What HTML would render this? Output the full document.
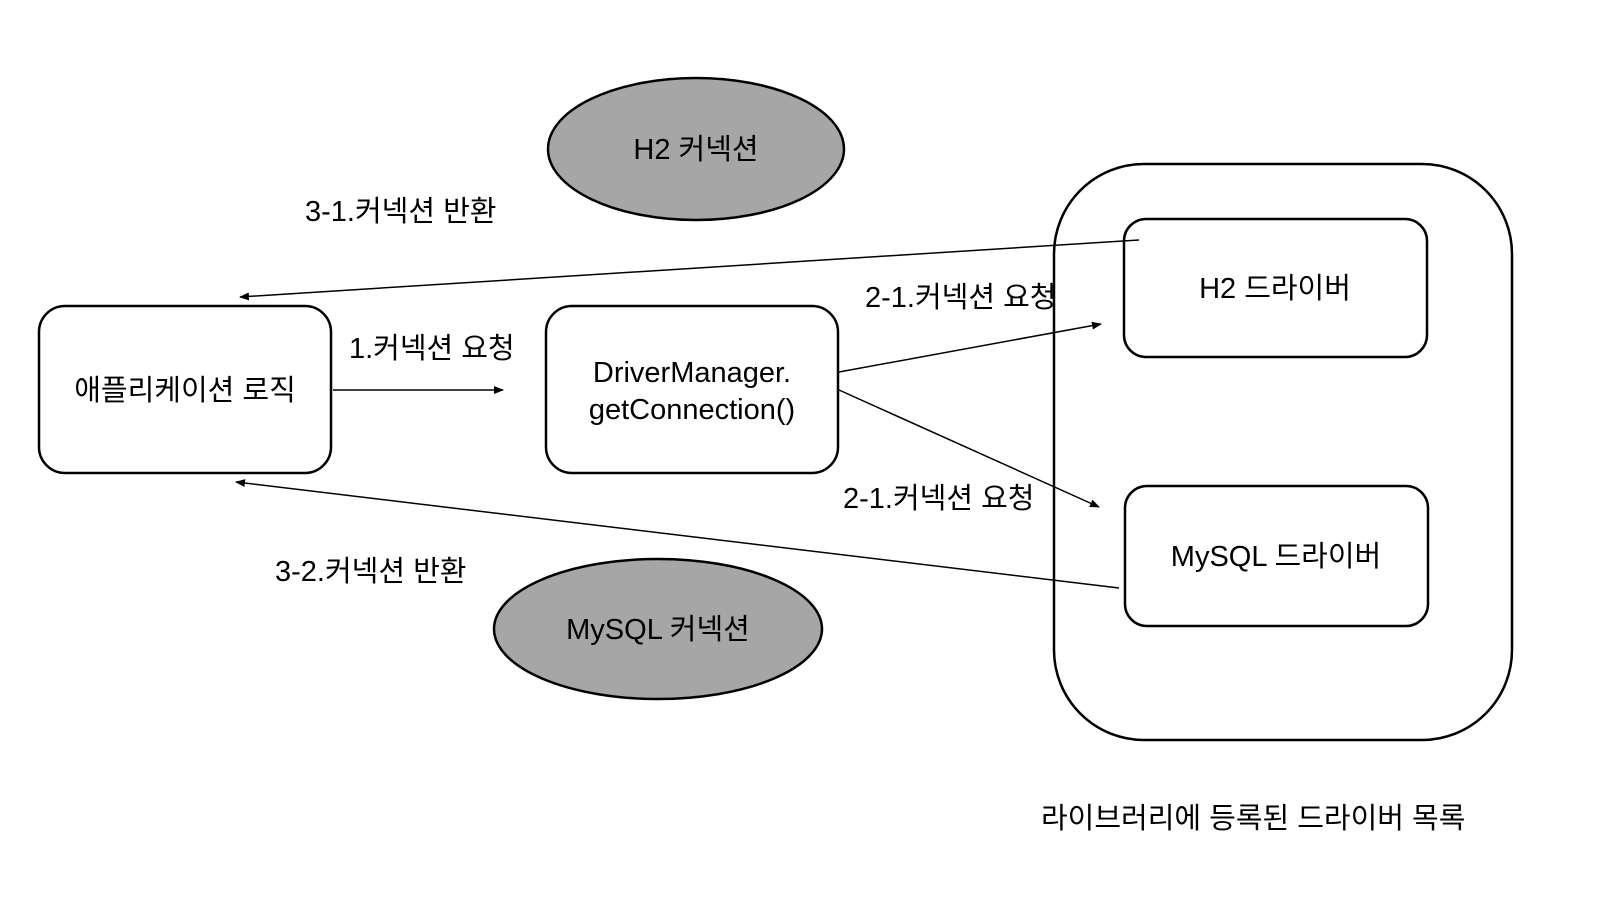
<!DOCTYPE html>
<html><head><meta charset="utf-8"><style>
html,body{margin:0;padding:0;background:#fff;}
svg text{font-family:"Liberation Sans","Noto Sans CJK KR",sans-serif;font-size:29px;fill:#000;}
</style></head><body>
<svg width="1600" height="900" viewBox="0 0 1600 900" xmlns="http://www.w3.org/2000/svg">
<defs><marker id="a" markerWidth="10" markerHeight="8" refX="9" refY="4" orient="auto" markerUnits="userSpaceOnUse"><path d="M0,0 L10,4 L0,8 z" fill="#000"/></marker></defs>
<ellipse cx="696" cy="149" rx="148" ry="71" fill="#a6a6a6" stroke="#000" stroke-width="2.5"/>
<text x="696" y="159" text-anchor="middle">H2 커넥션</text>
<ellipse cx="658" cy="629" rx="164" ry="70" fill="#a6a6a6" stroke="#000" stroke-width="2.5"/>
<text x="658" y="639" text-anchor="middle">MySQL 커넥션</text>
<rect x="39" y="306" width="292" height="167" rx="26" fill="#fff" stroke="#000" stroke-width="2.5"/>
<text x="185" y="400" text-anchor="middle">애플리케이션 로직</text>
<rect x="546" y="306" width="292" height="167" rx="26" fill="#fff" stroke="#000" stroke-width="2.5"/>
<text x="692" y="382" text-anchor="middle">DriverManager.</text>
<text x="692" y="419" text-anchor="middle">getConnection()</text>
<rect x="1054" y="164" width="458" height="576" rx="90" fill="none" stroke="#000" stroke-width="2.5"/>
<rect x="1124" y="219" width="303" height="138" rx="22" fill="#fff" stroke="#000" stroke-width="2.5"/>
<text x="1275" y="298" text-anchor="middle">H2 드라이버</text>
<rect x="1125" y="486" width="303" height="140" rx="22" fill="#fff" stroke="#000" stroke-width="2.5"/>
<text x="1276" y="566" text-anchor="middle">MySQL 드라이버</text>
<g stroke="#000" stroke-width="1.5" fill="none" marker-end="url(#a)">
<line x1="333" y1="390" x2="503" y2="390"/>
<line x1="839" y1="372" x2="1101" y2="324"/>
<line x1="839" y1="390" x2="1099" y2="507"/>
<line x1="1139" y1="240" x2="240" y2="297"/>
<line x1="1119" y1="588" x2="236" y2="482"/>
</g>
<text x="305" y="221">3-1.커넥션 반환</text>
<text x="349" y="358">1.커넥션 요청</text>
<text x="865" y="307">2-1.커넥션 요청</text>
<text x="843" y="508">2-1.커넥션 요청</text>
<text x="275" y="581">3-2.커넥션 반환</text>
<text x="1041" y="828">라이브러리에 등록된 드라이버 목록</text>
</svg>
</body></html>
